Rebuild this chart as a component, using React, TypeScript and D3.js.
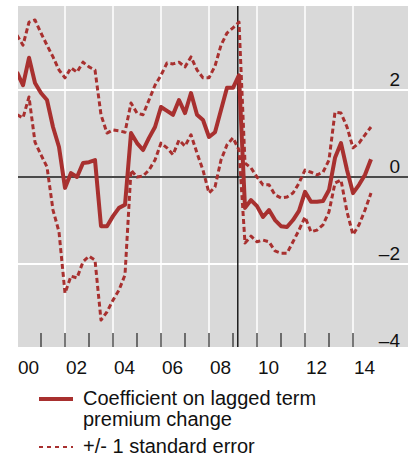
import React from 'react';
import { scaleLinear, line } from 'd3';

// quarterly observations
const quarters = [
  '2000Q1', '2000Q2', '2000Q3', '2000Q4', '2001Q1', '2001Q2', '2001Q3', '2001Q4',
  '2002Q1', '2002Q2', '2002Q3', '2002Q4', '2003Q1', '2003Q2', '2003Q3', '2003Q4',
  '2004Q1', '2004Q2', '2004Q3', '2004Q4', '2005Q1', '2005Q2', '2005Q3', '2005Q4',
  '2006Q1', '2006Q2', '2006Q3', '2006Q4', '2007Q1', '2007Q2', '2007Q3', '2007Q4',
  '2008Q1', '2008Q2', '2008Q3', '2008Q4', '2009Q1', '2009Q2', '2009Q3', '2009Q4',
  '2010Q1', '2010Q2', '2010Q3', '2010Q4', '2011Q1', '2011Q2', '2011Q3', '2011Q4',
  '2012Q1', '2012Q2', '2012Q3', '2012Q4', '2013Q1', '2013Q2', '2013Q3', '2013Q4',
  '2014Q1', '2014Q2', '2014Q3', '2014Q4',
];

const coefficient = [
  2.41, 2.11, 2.74, 2.16, 1.93, 1.77, 1.15, 0.69,
  -0.25, 0.09, 0.0, 0.32, 0.34, 0.39, -1.13, -1.13,
  -0.9, -0.71, -0.64, 1.01, 0.78, 0.62, 0.9, 1.15,
  1.61, 1.52, 1.43, 1.77, 1.47, 1.93, 1.43, 1.31,
  0.92, 1.03, 1.54, 2.05, 2.05, 2.34, -0.71, -0.53,
  -0.67, -0.92, -0.76, -0.99, -1.13, -1.15, -0.99, -0.78,
  -0.34, -0.57, -0.57, -0.55, -0.3, 0.44, 0.78, 0.16,
  -0.37, -0.18, 0.05, 0.41,
];

const upperBand = [
  3.26, 3.03, 3.56, 3.61, 3.31, 3.03, 2.76, 2.46,
  2.28, 2.51, 2.41, 2.64, 2.53, 2.46, 1.43, 1.01,
  1.08, 1.06, 1.03, 1.7, 1.47, 1.43, 1.77, 2.11,
  2.34, 2.62, 2.6, 2.64, 2.53, 2.76, 2.46, 2.28,
  2.28, 2.55, 3.03, 3.31, 3.43, 3.56, 0.32, 0.21,
  0.0, -0.18, -0.18, -0.41, -0.48, -0.46, -0.37, -0.14,
  0.16, 0.11, 0.05, 0.11, 0.39, 1.49, 1.47, 1.15,
  0.67, 0.78, 0.97, 1.15,
];

const lowerBand = [
  1.43, 1.36, 1.84, 0.8, 0.51, 0.23, -0.76, -1.26,
  -2.67, -2.28, -2.32, -1.95, -1.82, -1.91, -3.29, -3.1,
  -2.83, -2.6, -2.25, 0.16, 0.0, 0.02, 0.16, 0.39,
  0.78, 0.67, 0.51, 0.85, 0.71, 0.97, 0.55, 0.16,
  -0.37, -0.23, 0.39, 0.74, 0.9, 0.62, -1.52, -1.36,
  -1.49, -1.45, -1.49, -1.7, -1.75, -1.75, -1.49, -1.22,
  -0.92, -1.26, -1.22, -1.1, -0.8, -0.14, -0.07, -0.8,
  -1.33, -1.1, -0.76, -0.37,
];

const yTicks = [2, 0, -2, -4];
const xLabels = ['00', '02', '04', '06', '08', '10', '12', '14'];
const yearTicks = [2001, 2002, 2003, 2004, 2005, 2006, 2007, 2008, 2009, 2010, 2011, 2012, 2013, 2014];
const markerDate = 2009.2;

const RED = '#a8302f';
const FONT = '"Liberation Sans", Arial, Helvetica, sans-serif';

// quarter label -> fractional year
const toYear = (q: string) => +q.slice(0, 4) + (+q.slice(5) - 1) / 4;

export default function App() {
  const width = 408;
  const height = 457;
  const panel = { left: 18, top: 6, right: 408, bottom: 347 };

  const x = scaleLinear().domain([2000, 2016]).range([17, 401]);
  const y = scaleLinear().domain([-4, 4]).range([351, 3]);

  const path = (vals: number[]) =>
    line<number>()
      .x((_, i) => x(toYear(quarters[i])))
      .y(d => y(d))(vals) || '';

  const gridYears = [2002, 2004, 2006, 2008, 2010, 2012, 2014];

  return (
    <svg
      width={width}
      height={height}
      style={{ position: 'absolute', left: 0, top: 0, fontFamily: FONT }}
    >
      <defs>
        <clipPath id="panel">
          <rect x={panel.left} y={panel.top} width={panel.right - panel.left} height={panel.bottom - panel.top} />
        </clipPath>
      </defs>
      <rect x={0} y={0} width={width} height={height} fill="#fff" />
      <rect
        x={panel.left}
        y={panel.top}
        width={panel.right - panel.left}
        height={panel.bottom - panel.top}
        fill="#d9d9d9"
      />

      {/* grid */}
      {gridYears.map(g => (
        <line key={g} x1={x(g)} x2={x(g)} y1={panel.top} y2={panel.bottom} stroke="#fff" strokeWidth={1.5} />
      ))}
      {[2, -2].map(v => (
        <line key={v} x1={panel.left} x2={panel.right} y1={y(v)} y2={y(v)} stroke="#fff" strokeWidth={2} />
      ))}
      <line x1={panel.left} x2={panel.right} y1={y(0)} y2={y(0)} stroke="#4a4a4a" strokeWidth={2} />

      {/* year ticks */}
      {yearTicks.map(t => (
        <line key={t} x1={x(t)} x2={x(t)} y1={panel.bottom - 14} y2={panel.bottom} stroke="#222" strokeWidth={1.2} />
      ))}

      <line x1={x(markerDate)} x2={x(markerDate)} y1={panel.top} y2={panel.bottom} stroke="#000" strokeWidth={1.3} />

      {/* y labels */}
      {yTicks.map(v => (
        <text key={v} x={400} y={y(v) - 4.5} textAnchor="end" fontSize={19} fill="#111">
          {v < 0 ? `\u2013${Math.abs(v)}` : v}
        </text>
      ))}

      {/* series */}
      <g clipPath="url(#panel)" fill="none" stroke={RED} strokeLinejoin="round">
        <path d={path(upperBand)} strokeWidth={3} strokeDasharray="5,3" />
        <path d={path(lowerBand)} strokeWidth={3} strokeDasharray="5,3" />
        <path d={path(coefficient)} strokeWidth={4} />
      </g>

      {/* x labels */}
      {xLabels.map((l, i) => (
        <text key={l} x={x(2000 + 2 * i) + 1} y={374} fontSize={19} fill="#111">
          {l}
        </text>
      ))}

      {/* legend */}
      <line x1={39} x2={73} y1={399} y2={399} stroke={RED} strokeWidth={4} />
      <text x={83} y={405} fontSize={20} fill="#111">Coefficient on lagged term</text>
      <text x={83} y={426} fontSize={20} fill="#111">premium change</text>
      <line x1={39} x2={73} y1={447} y2={447} stroke={RED} strokeWidth={2.2} strokeDasharray="4,4" />
      <text x={83} y={453} fontSize={20} fill="#111">+/- 1 standard error</text>
    </svg>
  );
}
